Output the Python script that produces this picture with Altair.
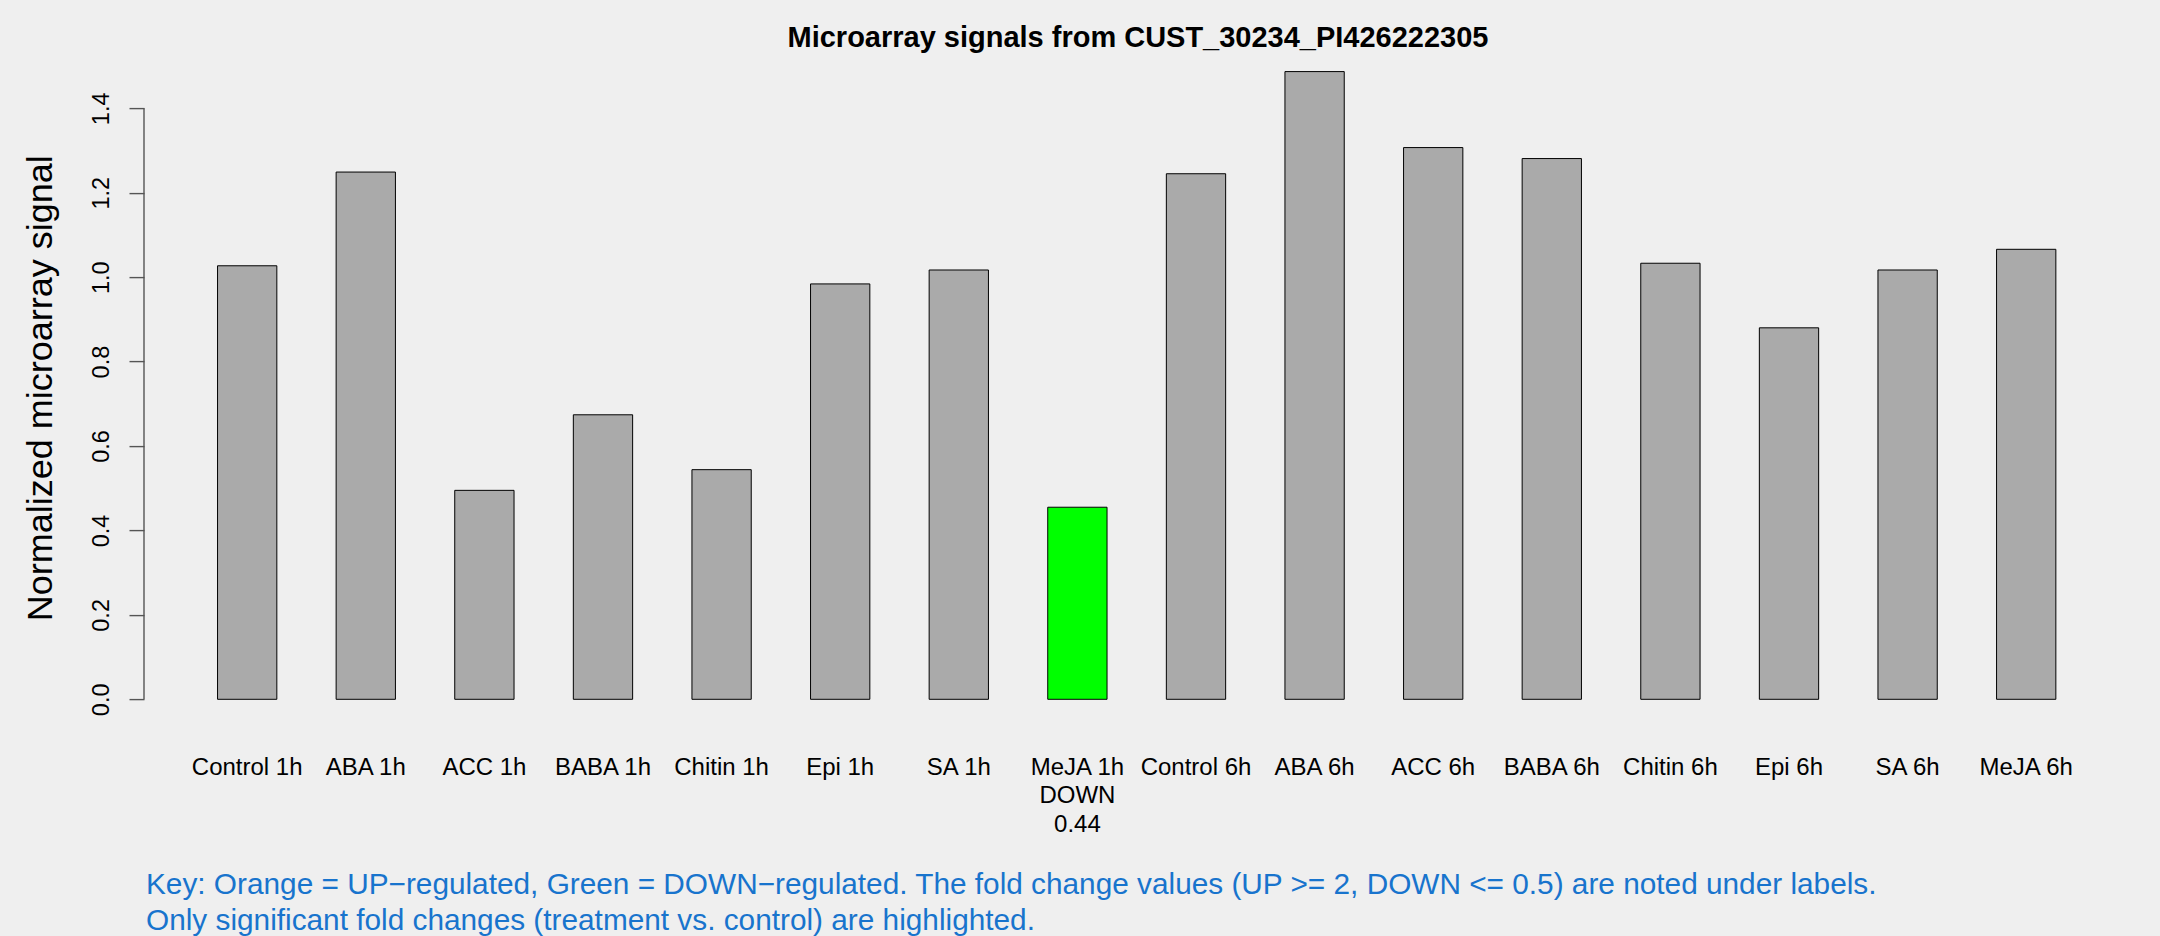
import altair as alt
import pandas as pd

# ---- data ----
labels = ["Control 1h", "ABA 1h", "ACC 1h", "BABA 1h", "Chitin 1h", "Epi 1h",
          "SA 1h", "MeJA 1h", "Control 6h", "ABA 6h", "ACC 6h", "BABA 6h",
          "Chitin 6h", "Epi 6h", "SA 6h", "MeJA 6h"]
values = [1.027, 1.249, 0.495, 0.674, 0.544, 0.984, 1.017, 0.455,
          1.245, 1.487, 1.307, 1.281, 1.033, 0.880, 1.017, 1.066]
regulation = ["", "", "", "", "", "", "", "DOWN",
              "", "", "", "", "", "", "", ""]
fold_change = ["", "", "", "", "", "", "", "0.44",
               "", "", "", "", "", "", "", ""]
y_ticks = [0.0, 0.2, 0.4, 0.6, 0.8, 1.0, 1.2, 1.4]

title_text = "Microarray signals from CUST_30234_PI426222305"
y_title = "Normalized microarray signal"
key_lines = [
    "Key: Orange = UP\u2212regulated, Green = DOWN\u2212regulated. The fold change values (UP >= 2, DOWN <= 0.5) are noted under labels.",
    "Only significant fold changes (treatment vs. control) are highlighted.",
]

FONT = "Liberation Sans, Arial, Helvetica, sans-serif"
BG = "#EFEFEF"
color_map = {"UP": "#FFA500", "DOWN": "#00FF00", "": "#AAAAAA"}

# page background (the 8px body margin) in the same grey as the chart
try:
    import altair.utils.html as _ah
    _orig_tmpl = _ah.TEMPLATES["standard"]

    class _BgTemplate:
        def render(self, *args, **kwargs):
            html = _orig_tmpl.render(*args, **kwargs)
            return html.replace(
                "<head>", "<head><style>html,body{background:%s;}</style>" % BG, 1
            )

    _ah.TEMPLATES["standard"] = _BgTemplate()
except Exception:
    pass

axis_labels = []
for lab, reg, fc in zip(labels, regulation, fold_change):
    axis_labels.append(lab + ("\n" + reg + "\n" + fc if reg else ""))

df = pd.DataFrame({
    "label": axis_labels,
    "value": values,
    "color": [color_map[r] for r in regulation],
})

W = 1985.4
H = 633.2

x_enc = alt.X(
    "label:N", sort=None, title=None,
    scale=alt.Scale(paddingInner=0.5, paddingOuter=0.62),
    axis=alt.Axis(
        labelAngle=0, ticks=False, tickSize=0, domain=False, grid=False,
        labelPadding=75, labelBaseline="alphabetic", labelFontSize=24,
        labelFont=FONT, labelColor="black", labelLineHeight=28.7,
        labelLimit=0, labelOverlap=False, labelBound=False,
        labelExpr="split(datum.label, '\\n')",
    ),
)

y_scale = alt.Scale(domain=[0, 1.5], nice=False, zero=True)

bars = alt.Chart(df).mark_bar(stroke="black", strokeWidth=1).encode(
    x=x_enc,
    y=alt.Y(
        "value:Q", scale=y_scale, title=y_title,
        axis=alt.Axis(
            values=y_ticks, format=".1f", grid=False, domain=False,
            tickSize=15, tickColor="#555555", tickWidth=1.4,
            labelAngle=270, labelAlign="center", labelBaseline="alphabetic",
            labelPadding=20, labelFontSize=23.5, labelFont=FONT, labelColor="black",
            titleFontSize=36, titleFont=FONT, titleFontWeight="normal",
            titleColor="black", titleAngle=270, titleAlign="center",
            titleBaseline="alphabetic", titleX=-92.3, titleY=321.7,
        ),
    ),
    color=alt.Color("color:N", scale=None),
)

axis_line = alt.Chart(pd.DataFrame({"y0": [y_ticks[0]], "y1": [y_ticks[-1]]})).mark_rule(
    color="#555555", strokeWidth=1.4
).encode(
    x=alt.value(0),
    y=alt.Y("y0:Q", scale=y_scale),
    y2="y1:Q",
)

title = alt.Chart(pd.DataFrame({"t": [title_text]})).mark_text(
    align="center", baseline="alphabetic", fontSize=29, font=FONT,
    fontWeight="bold", color="black",
).encode(
    x=alt.value(994),
    y=alt.value(-19.4),
    text="t:N",
)

key_df = pd.DataFrame({"line": key_lines, "yy": [828.2, 863.9]})
key = alt.Chart(key_df).mark_text(
    align="left", baseline="alphabetic", fontSize=29.8, font=FONT, color="#1874CD"
).encode(
    x=alt.value(2),
    y=alt.Y("yy:Q", scale=None),
    text="line:N",
)

chart = alt.layer(axis_line, bars, title, key).properties(
    width=W,
    height=H,
    autosize=alt.AutoSizeParams(type="none"),
    padding={"left": 136, "top": 58.1, "right": 22, "bottom": 236.7},
    background=BG,
).configure_view(stroke=None)

chart.save("out.html", embed_options={"renderer": "svg", "actions": False})
